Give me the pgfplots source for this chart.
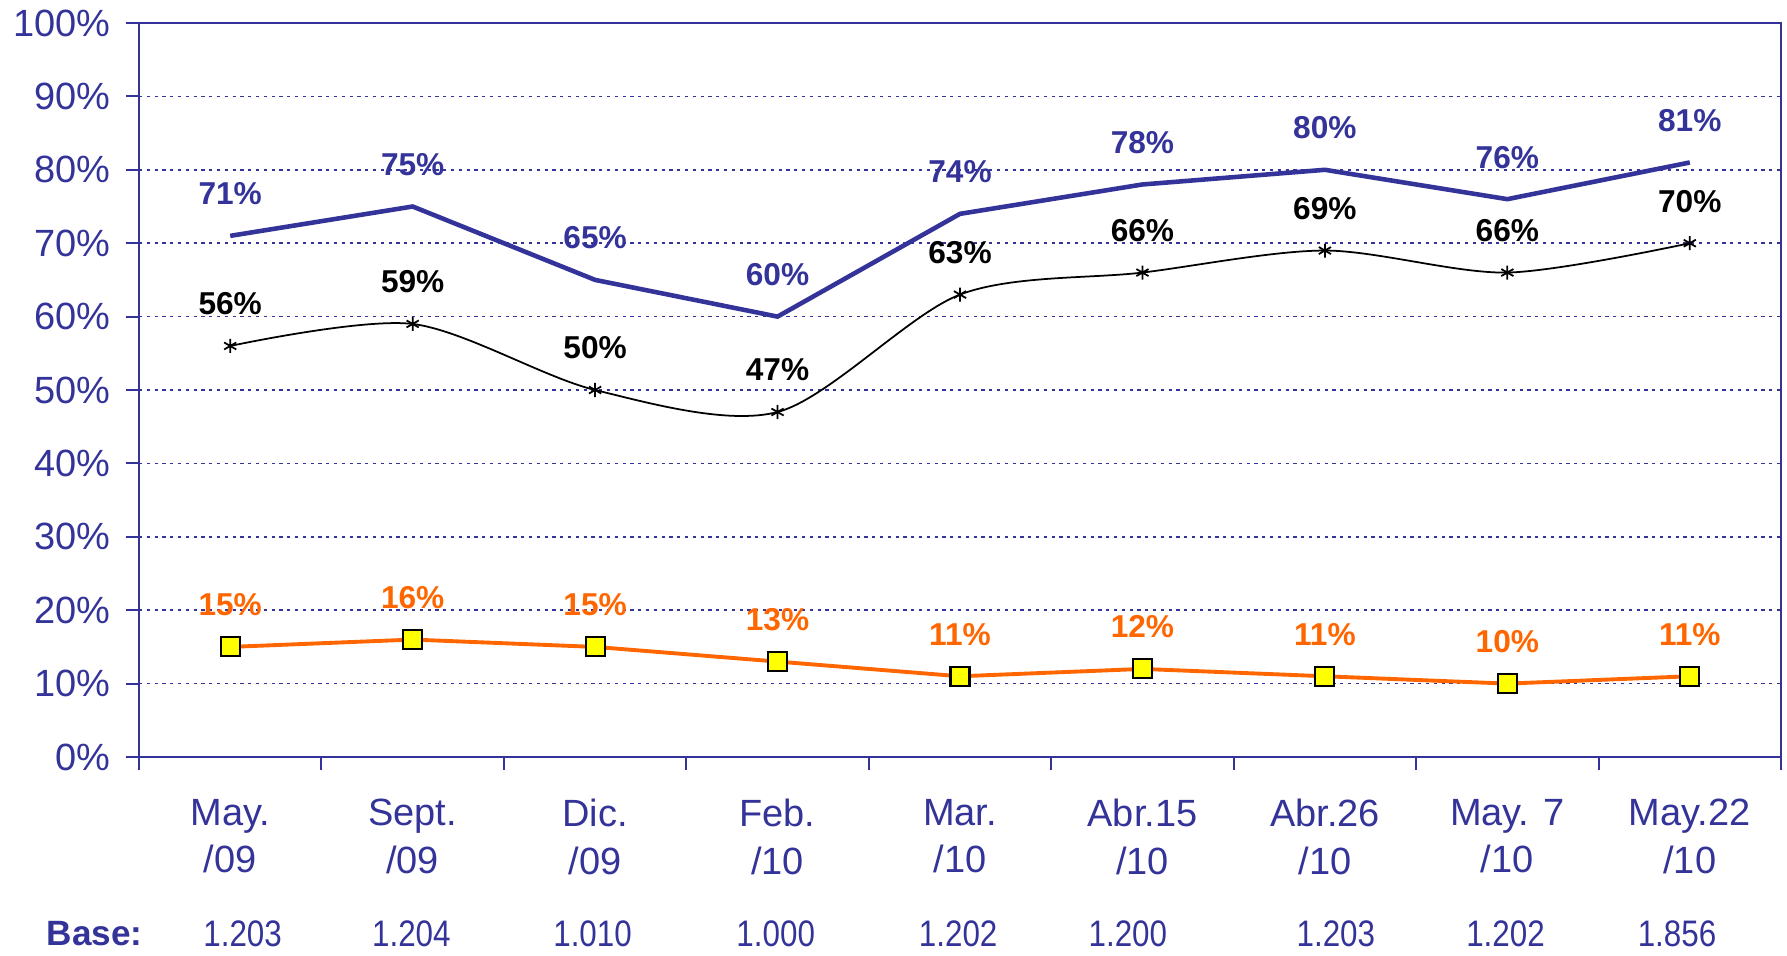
\documentclass[border=0pt]{standalone}
\usepackage{fontspec}
\setmainfont{Liberation Sans}
\usepackage{graphicx}
\usepackage{pgfplots}
\pgfplotsset{compat=1.18}
\usetikzlibrary{calc}
\definecolor{cblue}{HTML}{333399}
\definecolor{corange}{HTML}{FF6600}
\definecolor{cyellow}{HTML}{FFFF00}
\tikzset{basenum/.style={anchor=center, inner sep=0pt, text=cblue, font=\fontsize{10.5}{12}\selectfont, yshift=-17.7mm}}
\newcommand{\bn}[1]{\scalebox{0.85}[1]{#1}}
\begin{document}
\begin{tikzpicture}
\begin{axis}[name=ax, scale only axis, width=164.2mm, height=73.4mm,
  xmin=0, xmax=9, ymin=0, ymax=100, clip=false,
  /pgf/number format/assume math mode=true,
  axis line style={cblue, line width=0.65pt},
  tick align=outside, major tick length=1.3mm,
  xtick pos=bottom, ytick pos=left,
  xtick={0.5,1.5,...,8.5},
  xticklabels={{May.\\/09},{Sept.\\/09},{Dic.\\/09},{Feb.\\/10},{Mar.\\/10},{Abr.15\\/10},{Abr.26\\/10},{May. 7\\/10},{May.22\\/10}},
  xticklabel style={align=center, font=\fontsize{10.8}{13.4}\selectfont, text=cblue, yshift=-1.7mm},
  xtick style={draw=none},
  extra x ticks={0,1,...,9}, extra x tick labels={},
  extra x tick style={xtick style={draw=cblue, line width=0.6pt}, xmajorgrids=false},
  ytick={0,10,...,100},
  yticklabels={0\%,10\%,20\%,30\%,40\%,50\%,60\%,70\%,80\%,90\%,100\%},
  yticklabel style={font=\fontsize{10.8}{13}\selectfont, text=cblue, xshift=-0.3mm},
  ytick style={draw=cblue, line width=0.6pt},
  ymajorgrids,
  major grid style={cblue, line width=0.5pt, dash pattern=on 0.33mm off 0.45mm},
  nodes near coords={\pgfmathprintnumber{\pgfplotspointmeta}\%},
  every node near coord/.append style={anchor=center, yshift=4.2mm, font=\bfseries\fontsize{9}{10}\selectfont},
]
\addplot[cblue, line width=1.3pt, no marks, nodes near coords style={text=cblue}] coordinates {
 (0.5,71) (1.5,75) (2.5,65) (3.5,60) (4.5,74) (5.5,78) (6.5,80) (7.5,76) (8.5,81)};
\addplot[black, line width=0.5pt, smooth, tension=0.5, mark=asterisk, mark size=2pt,
  mark options={solid, black, line width=0.5pt}, nodes near coords style={text=black}] coordinates {
 (0.5,56) (1.5,59) (2.5,50) (3.5,47) (4.5,63) (5.5,66) (6.5,69) (7.5,66) (8.5,70)};
\addplot[corange, line width=1.1pt, mark=square*, mark size=2.7pt,
  mark options={solid, fill=cyellow, draw=black, line width=0.6pt}, nodes near coords style={text=corange}] coordinates {
 (0.5,15) (1.5,16) (2.5,15) (3.5,13) (4.5,11) (5.5,12) (6.5,11) (7.5,10) (8.5,11)};
\node[anchor=west, inner sep=0pt, text=cblue, font=\bfseries\fontsize{10}{12}\selectfont, xshift=-9.3mm, yshift=-17.7mm] at (axis cs:0,0) {Base:};
\node[basenum] at (axis cs:0.568,0) {\bn{1.203}};
\node[basenum] at (axis cs:1.493,0) {\bn{1.204}};
\node[basenum] at (axis cs:2.486,0) {\bn{1.010}};
\node[basenum] at (axis cs:3.49,0) {\bn{1.000}};
\node[basenum] at (axis cs:4.49,0) {\bn{1.202}};
\node[basenum] at (axis cs:5.42,0) {\bn{1.200}};
\node[basenum] at (axis cs:6.56,0) {\bn{1.203}};
\node[basenum] at (axis cs:7.49,0) {\bn{1.202}};
\node[basenum] at (axis cs:8.43,0) {\bn{1.856}};
\end{axis}
\pgfresetboundingbox
\path[use as bounding box] ($(ax.south west)+(-13.9mm,-19.8mm)$) rectangle ($(ax.north east)+(0.6mm,2.3mm)$);
\end{tikzpicture}
\end{document}
